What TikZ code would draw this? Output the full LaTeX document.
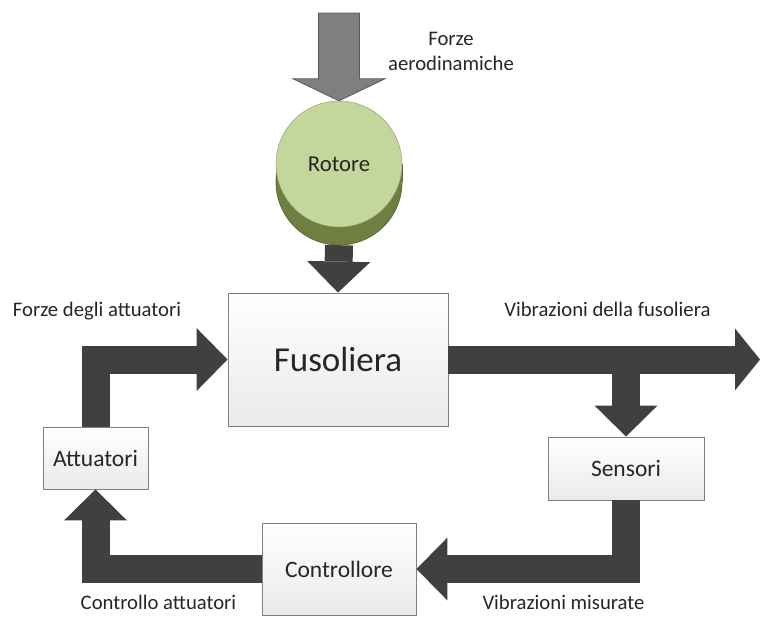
\documentclass[tikz,border=0pt]{standalone}
\usepackage{fontspec}
\setmainfont{Carlito}
\usepackage{tikz}
\usetikzlibrary{
  % enables the block arrow heads
  arrows.meta,%
  calc
}
\definecolor{arrowdark}{HTML}{404040}
\definecolor{aerofill}{HTML}{7F7F7F}
\definecolor{aeroedge}{HTML}{5A5A5A}
\definecolor{boxedge}{HTML}{808080}
\definecolor{boxlow}{HTML}{EAEAEA}
\definecolor{rotorface}{HTML}{C3D69B}
\definecolor{rotorside}{HTML}{6F7F3F}
\definecolor{rotoredge}{HTML}{5F6B3A}
\definecolor{textdark}{HTML}{262626}
\tikzset{
  block/.style={draw=boxedge, line width=0.9pt, top color=white,
    bottom color=boxlow, text=textdark, inner sep=0pt,
    font=\fontsize{23.5}{28}\selectfont},
  flow/.style={draw=arrowdark, line width=28pt, line cap=butt,
    line join=miter, -{Triangle[width=63pt,length=31pt,line width=0pt]}},
  aeroarrow/.style={fill=aerofill, draw=aeroedge, line width=0.8pt,
    line join=miter},
  caption/.style={text=textdark, inner sep=0pt,
    font=\fontsize{20.7}{25}\selectfont},
}

\begin{document}
\begin{tikzpicture}[x=1pt, y=-1pt]
  \useasboundingbox (0,0) rectangle (760,616);
  % blocks
  \node[block, minimum width=220pt, minimum height=133pt,
    font=\fontsize{35}{40}\selectfont] (fus) at (338,359.5) {Fusoliera};
  \node[block, minimum width=105pt, minimum height=62pt] (att) at (95.5,458) {Attuatori};
  \node[block, minimum width=156pt, minimum height=63pt] (sens) at (626,468.5) {Sensori};
  \node[block, minimum width=154pt, minimum height=92pt] (ctrl) at (339,569) {Controllore};
  % rotor drawn as a short cylinder
  \coordinate (rotc) at (339,164);
  \begin{scope}[line width=0.8pt]
    \fill[rotorside, draw=rotoredge] ($(rotc)+(0,18)$) circle[radius=63pt];
    \fill[rotorside] ($(rotc)+(-63,0)$) rectangle ($(rotc)+(63,18)$);
    \draw[rotoredge] ($(rotc)+(-63,0)$) -- ++(0,18)
      ($(rotc)+(63,0)$) -- ++(0,18);
  \end{scope}
  \node[circle, draw=rotoredge!70, fill=rotorface, minimum size=126pt,
    inner sep=0pt, text=textdark, font=\fontsize{22.7}{27}\selectfont]
    (rot) at (rotc) {Rotore};
  % arrows
  \coordinate (aero) at (339,13);
  \draw[aeroarrow] ($(aero)+(-20.5,0)$) -- ($(aero)+(20.5,0)$)
    -- ($(rot.north)+(20.5,-22)$) -- ($(rot.north)+(46,-22)$) -- (rot.north)
    -- ($(rot.north)+(-46,-22)$) -- ($(rot.north)+(-20.5,-22)$) -- cycle;
  \draw[flow] ($(rot.south)+(0,18)$) -- (fus.north);
  \draw[flow] (att.north) |- (fus.west);
  \coordinate (vibend) at (760,359.5);
  \draw[flow, -{Triangle[width=62pt,length=25pt,line width=0pt]}] (fus.east) -- (vibend);
  \draw[flow] (sens.north |- fus.east) -- (sens.north);
  \draw[flow] (sens.south) |- (ctrl.east);
  \draw[flow] (ctrl.west) -| (att.south);
  % labels
  \node[caption, align=center] (aerolbl) at (451,51.5) {Forze\\aerodinamiche};
  \node[caption] (forzelbl) at (97,311) {Forze degli attuatori};
  \node[caption] (viblbl) at (607.5,309) {Vibrazioni della fusoliera};
  \node[caption] (ctrllbl) at (158.5,602) {Controllo attuatori};
  \node[caption] (misulbl) at (563.5,602) {Vibrazioni misurate};
\end{tikzpicture}
\end{document}
